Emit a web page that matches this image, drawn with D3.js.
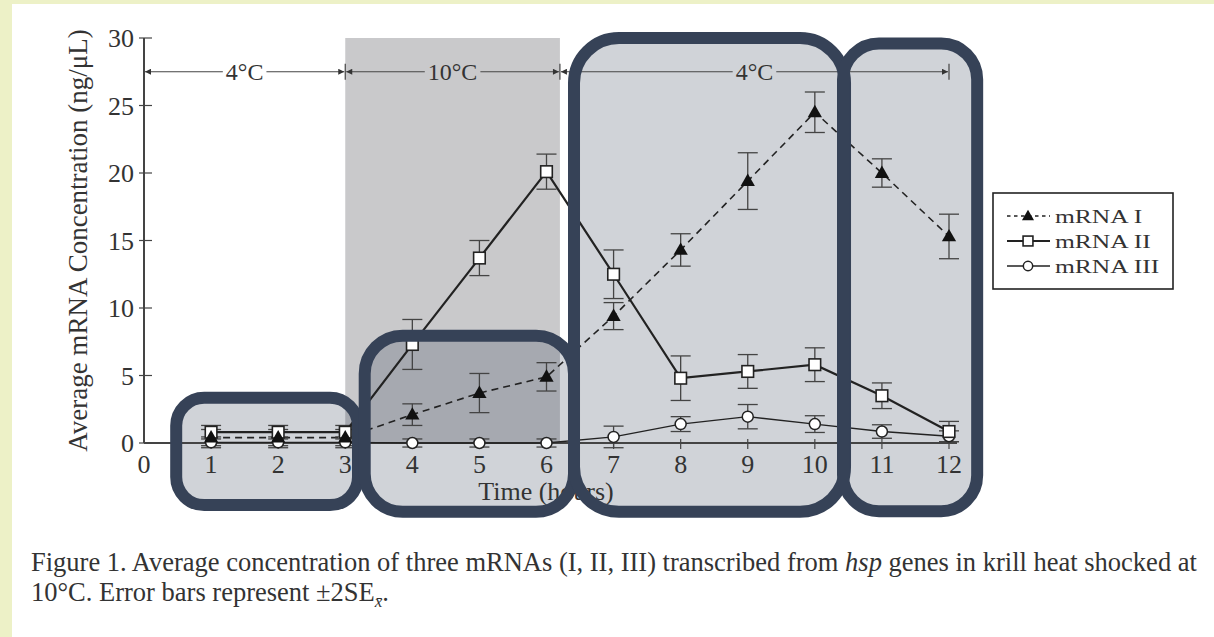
<!DOCTYPE html>
<html>
<head>
<meta charset="utf-8">
<script src="https://cdn.jsdelivr.net/npm/d3@7.9.0/dist/d3.min.js"></script>
<style>
  html, body { margin: 0; padding: 0; background: #edf1c7; }
  svg { display: block; }
  text { font-family: "Liberation Serif", "Times New Roman", serif; fill: #333; }
</style>
</head>
<body>
<svg id="chart" width="1214" height="637"></svg>
<script>
// time points (hours)
const hours = [1, 2, 3, 4, 5, 6, 7, 8, 9, 10, 11, 12];

// mean concentration (ng/uL) and +/- 2SE
const mrna1 = [0.4, 0.4, 0.4, 2.1, 3.7, 4.9, 9.4, 14.3, 19.4, 24.5, 20.0, 15.3];
const mrna1Err = [0.6, 0.6, 0.6, 0.8, 1.45, 1.05, 1.0, 1.2, 2.1, 1.5, 1.05, 1.65];
const mrna2 = [0.8, 0.8, 0.8, 7.3, 13.7, 20.1, 12.5, 4.8, 5.3, 5.8, 3.5, 0.85];
const mrna2Err = [0.5, 0.5, 0.5, 1.85, 1.3, 1.3, 1.8, 1.65, 1.25, 1.25, 0.95, 0.75];
const mrna3 = [0.05, 0.05, 0.05, 0, 0, 0, 0.45, 1.4, 1.95, 1.4, 0.85, 0.5];
const mrna3Err = [0.4, 0.4, 0.4, 0.3, 0.3, 0.3, 0.8, 0.55, 0.9, 0.62, 0.5, 0.4];

const xTicks = [0, 1, 2, 3, 4, 5, 6, 7, 8, 9, 10, 11, 12];
const yTicks = [0, 5, 10, 15, 20, 25, 30];

// temperature periods along the top
const periodStart = [0, 3, 6.2];
const periodEnd = [3, 6.2, 12];
const periodLabel = ['4°C', '10°C', '4°C'];
const periodY = 27.5;

// highlight boxes drawn over the plot (data units)
const boxX0 = [0.48, 3.29, 6.41, 10.42];
const boxX1 = [3.19, 6.41, 10.45, 12.42];
const boxY0 = [-4.6, -5.1, -5.1, -5.05];
const boxY1 = [3.35, 7.95, 30.0, 29.6];
const boxR = [28, 38, 45, 36];

const legendNames = ['mRNA I', 'mRNA II', 'mRNA III'];

const svg = d3.select('#chart');

svg.append('rect')
  .attr('x', 12).attr('y', 4)
  .attr('width', 1202).attr('height', 633)
  .attr('fill', '#fff');

const x = d3.scaleLinear().domain([0, 12]).range([144, 949]);
const y = d3.scaleLinear().domain([0, 30]).range([443, 38]);

// 10°C shaded period
svg.append('rect')
  .attr('x', x(periodStart[1]))
  .attr('y', y(30))
  .attr('width', x(periodEnd[1]) - x(periodStart[1]))
  .attr('height', y(0) - y(30))
  .attr('fill', '#c9c9cb');

// box fills (under the data)
const boxes = boxX0.map((d, i) => ({ x0: d, x1: boxX1[i], y0: boxY0[i], y1: boxY1[i], r: boxR[i] }));

svg.append('g')
  .selectAll('rect')
  .data(boxes)
  .join('rect')
  .attr('x', d => x(d.x0))
  .attr('y', d => y(d.y1))
  .attr('width', d => x(d.x1) - x(d.x0))
  .attr('height', d => y(d.y0) - y(d.y1))
  .attr('rx', d => d.r)
  .attr('fill', '#364257')
  .attr('fill-opacity', 0.23);

// axes
const axisColor = '#444';
const xAxis = svg.append('g').attr('transform', `translate(0,${y(0)})`);
xAxis.append('line')
  .attr('x1', x(0)).attr('x2', x(12) + 8)
  .attr('stroke', axisColor).attr('stroke-width', 2);
xAxis.selectAll('line.tick')
  .data(xTicks.filter(d => d > 0))
  .join('line')
  .attr('class', 'tick')
  .attr('x1', d => x(d)).attr('x2', d => x(d))
  .attr('y1', -4).attr('y2', 6)
  .attr('stroke', axisColor).attr('stroke-width', 1.2);
xAxis.selectAll('text')
  .data(xTicks)
  .join('text')
  .attr('x', d => x(d))
  .attr('y', 30)
  .attr('text-anchor', 'middle')
  .attr('font-size', 26)
  .text(d => d);

const yAxis = svg.append('g').attr('transform', `translate(${x(0)},0)`);
yAxis.append('line')
  .attr('y1', y(0)).attr('y2', y(30))
  .attr('stroke', axisColor).attr('stroke-width', 2);
yAxis.selectAll('line.tick')
  .data(yTicks)
  .join('line')
  .attr('class', 'tick')
  .attr('x1', -5).attr('x2', 8)
  .attr('y1', d => y(d)).attr('y2', d => y(d))
  .attr('stroke', axisColor).attr('stroke-width', 1.2);
yAxis.selectAll('text')
  .data(yTicks)
  .join('text')
  .attr('x', -10)
  .attr('y', d => y(d))
  .attr('dy', '0.35em')
  .attr('text-anchor', 'end')
  .attr('font-size', 26)
  .text(d => d);

svg.append('text')
  .attr('transform', `translate(87,${(y(0) + y(30)) / 2}) rotate(-90)`)
  .attr('text-anchor', 'middle')
  .attr('font-size', 27)
  .text('Average mRNA Concentration (ng/\u03BCL)');

// temperature period arrows
svg.append('defs').append('marker')
  .attr('id', 'arr')
  .attr('viewBox', '0 0 10 10')
  .attr('refX', 10).attr('refY', 5)
  .attr('markerWidth', 9).attr('markerHeight', 6)
  .attr('markerUnits', 'userSpaceOnUse')
  .attr('orient', 'auto-start-reverse')
  .append('path')
  .attr('d', 'M0,0L10,5L0,10Z')
  .attr('fill', '#333');

const py = y(periodY);
periodLabel.forEach((lab, i) => {
  const a = x(periodStart[i]) + 1, b = x(periodEnd[i]) - 1;
  const mid = (a + b) / 2;
  const g = svg.append('g');
  const t = g.append('text')
    .attr('x', mid).attr('y', py)
    .attr('dy', '0.35em')
    .attr('text-anchor', 'middle')
    .attr('font-size', 24)
    .text(lab);
  const half = t.node().getComputedTextLength() / 2 + 3;
  g.append('line')
    .attr('x1', a).attr('x2', mid - half)
    .attr('y1', py).attr('y2', py)
    .attr('stroke', '#444').attr('stroke-width', 1.2)
    .attr('marker-start', 'url(#arr)');
  g.append('line')
    .attr('x1', mid + half).attr('x2', b)
    .attr('y1', py).attr('y2', py)
    .attr('stroke', '#444').attr('stroke-width', 1.2)
    .attr('marker-end', 'url(#arr)');
});
svg.selectAll('line.pbar')
  .data(periodEnd)
  .join('line')
  .attr('class', 'pbar')
  .attr('x1', d => x(d)).attr('x2', d => x(d))
  .attr('y1', py - 8).attr('y2', py + 8)
  .attr('stroke', '#444').attr('stroke-width', 1.2);

// series
const series = [
  { name: 'mRNA I', values: mrna1, err: mrna1Err, dash: '7,5', width: 1.6, shape: 'tri' },
  { name: 'mRNA II', values: mrna2, err: mrna2Err, dash: null, width: 2.2, shape: 'sq' },
  { name: 'mRNA III', values: mrna3, err: mrna3Err, dash: null, width: 1.4, shape: 'circ' }
];

const line = d3.line().x(d => x(d[0])).y(d => y(d[1]));
const cap = 10;

series.forEach(s => {
  const pts = hours.map((h, i) => [h, s.values[i], s.err[i]]);
  const g = svg.append('g');
  // error bars
  pts.forEach(p => {
    const cx = x(p[0]), top = y(p[1] + p[2]), bot = y(p[1] - p[2]);
    g.append('line').attr('x1', cx).attr('x2', cx).attr('y1', top).attr('y2', bot)
      .attr('stroke', '#444').attr('stroke-width', 1.3);
    g.append('line').attr('x1', cx - cap).attr('x2', cx + cap).attr('y1', top).attr('y2', top)
      .attr('stroke', '#444').attr('stroke-width', 1.3);
    g.append('line').attr('x1', cx - cap).attr('x2', cx + cap).attr('y1', bot).attr('y2', bot)
      .attr('stroke', '#444').attr('stroke-width', 1.3);
  });
  g.append('path')
    .datum(pts)
    .attr('d', line)
    .attr('fill', 'none')
    .attr('stroke', '#222')
    .attr('stroke-width', s.width)
    .attr('stroke-dasharray', s.dash);
  s.pts = pts;
});

function drawMarker(g, shape, cx, cy, k) {
  if (shape === 'tri') {
    const r = 7.5 * k;
    g.append('path')
      .attr('d', `M${cx},${cy - r}L${cx + r * 0.95},${cy + r * 0.65}L${cx - r * 0.95},${cy + r * 0.65}Z`)
      .attr('fill', '#111');
  } else if (shape === 'sq') {
    const r = 5.8 * k;
    g.append('rect')
      .attr('x', cx - r).attr('y', cy - r)
      .attr('width', 2 * r).attr('height', 2 * r)
      .attr('fill', '#fff').attr('stroke', '#222').attr('stroke-width', 1.6);
  } else {
    g.append('circle')
      .attr('cx', cx).attr('cy', cy).attr('r', 5.5 * k)
      .attr('fill', '#fff').attr('stroke', '#222').attr('stroke-width', 1.5);
  }
}

// markers: circles and squares first, triangles on top
[series[2], series[1], series[0]].forEach(s => {
  const g = svg.append('g');
  s.pts.forEach(p => drawMarker(g, s.shape, x(p[0]), y(p[1]), 1));
});

svg.append('text')
  .attr('x', 546).attr('y', 500)
  .attr('text-anchor', 'middle')
  .attr('font-size', 26)
  .text('Time (hours)');

// box outlines (on top)
svg.append('g')
  .selectAll('rect')
  .data(boxes)
  .join('rect')
  .attr('x', d => x(d.x0))
  .attr('y', d => y(d.y1))
  .attr('width', d => x(d.x1) - x(d.x0))
  .attr('height', d => y(d.y0) - y(d.y1))
  .attr('rx', d => d.r)
  .attr('fill', 'none')
  .attr('stroke', '#364257')
  .attr('stroke-width', 12);

// legend (text is horizontally stretched in the source)
const lg = svg.append('g').attr('transform', 'translate(993,193)');
lg.append('rect')
  .attr('width', 180).attr('height', 96)
  .attr('fill', '#fff').attr('stroke', '#222').attr('stroke-width', 1.6);
series.forEach((s, i) => {
  const ly = 23 + i * 25;
  lg.append('line')
    .attr('x1', 14).attr('x2', 57)
    .attr('y1', ly).attr('y2', ly)
    .attr('stroke', '#222').attr('stroke-width', s.width)
    .attr('stroke-dasharray', s.dash ? '3.5,3.5' : null);
  drawMarker(lg, s.shape, 35, ly, 0.85);
  lg.append('text')
    .attr('transform', `translate(62,${ly + 6.5}) scale(1.38,1)`)
    .attr('font-size', 18.5)
    .text(legendNames[i]);
});

// caption
const cap1 = svg.append('text').attr('x', 31).attr('y', 571).attr('font-size', 26.5);
cap1.append('tspan').text('Figure 1. Average concentration of three mRNAs (I, II, III) transcribed from ');
cap1.append('tspan').attr('font-style', 'italic').text('hsp');
cap1.append('tspan').text(' genes in krill heat shocked at');

const cap2 = svg.append('text').attr('x', 31).attr('y', 601).attr('font-size', 26.5);
cap2.append('tspan').text('10°C. Error bars represent \u00B12SE');
cap2.append('tspan').attr('font-style', 'italic').attr('font-size', 17).attr('dy', 6).text('x\u0304');
cap2.append('tspan').attr('dy', -6).text('.');
</script>
</body>
</html>
